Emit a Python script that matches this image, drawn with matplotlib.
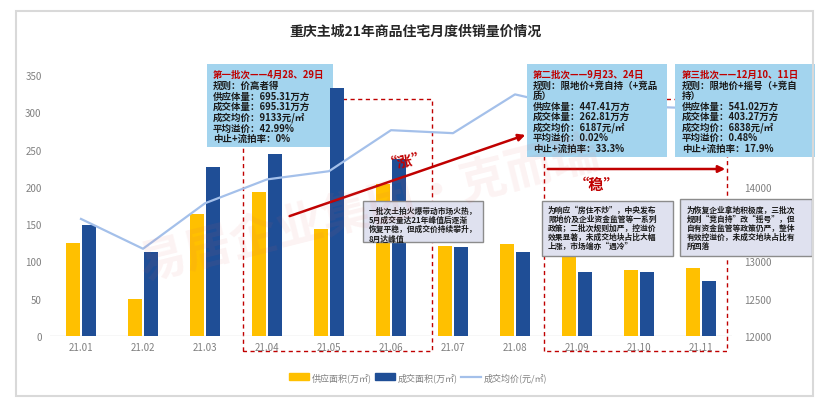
import numpy as np
import matplotlib
matplotlib.use("Agg")
import matplotlib.pyplot as plt
from matplotlib.patches import Rectangle, Patch
from matplotlib.lines import Line2D

plt.rcParams['font.family'] = ['Noto Sans CJK SC', 'DejaVu Sans']

# 数据
months = ["21.01", "21.02", "21.03", "21.04", "21.05", "21.06",
          "21.07", "21.08", "21.09", "21.10", "21.11"]
supply = [125, 49, 163, 193, 144, 204, 121, 124, 110, 89, 91]      # 供应面积(万㎡)
deal = [149, 113, 226, 244, 332, 237, 120, 112, 86, 86, 74]        # 成交面积(万㎡)
price = [13570, 13170, 13780, 14100, 14210, 14760, 14720, 15240, 15050, 15080, 15050]  # 成交均价(元/㎡)
price_ticks = [12000, 12500, 13000, 13500, 14000, 14500, 15000, 15500]
price_labels = ["12000", "12500", "13000", "", "14000", "", "", ""]  # 其余被说明框遮住

title = "重庆主城21年商品住宅月度供销量价情况"
batch1 = ["规则：价高者得", "供应体量：695.31万方", "成交体量：695.31万方",
          "成交均价：9133元/㎡", "平均溢价：42.99%", "中止+流拍率：0%"]
batch2 = ["规则：限地价+竞自持（+竞品", "质）", "供应体量：447.41万方", "成交体量：262.81万方",
          "成交均价：6187元/㎡", "平均溢价：0.02%", "中止+流拍率：33.3%"]
batch3 = ["规则：限地价+摇号（+竞自", "持）", "供应体量：541.02万方", "成交体量：403.27万方",
          "成交均价：6838元/㎡", "平均溢价：0.48%", "中止+流拍率：17.9%"]
noteA = ["一批次土拍火爆带动市场火热，", "5月成交量达21年峰值后逐渐",
         "恢复平稳，但成交价持续攀升，", "8月达峰值"]
noteB = ["为响应“房住不炒”，中央发布", "限地价及企业资金监管等一系列",
         "政策；二批次规则加严，控溢价", "效果显著，未成交地块占比大幅", "上涨，市场端亦“遇冷”"]
noteC = ["为恢复企业拿地积极度，三批次", "规则“竞自持”改“摇号”，但",
         "自有资金监管等政策仍严，整体", "有效控溢价，未成交地块占比有", "所回落"]

W, H = 832, 410
def fx(v): return v / W
def fy(v): return 1 - v / H

RED = '#C00000'
YEL = '#FFC000'
BLU = '#1F4E96'
LINE = '#A4C0EA'
GRAY = '#808080'

fig = plt.figure(figsize=(8.32, 4.10), dpi=100)
fig.add_artist(Rectangle((fx(16), fy(397)), fx(813) - fx(16), fy(12) - fy(397),
                         transform=fig.transFigure, fill=False, edgecolor='#d9d9d9', lw=1.5))
fig.text(fx(415), fy(32), title, ha='center', va='center', fontsize=10, fontweight='bold', color='#262626')

ax = fig.add_axes([fx(50), fy(337), fx(732) - fx(50), fy(76) - fy(337)])
x = np.arange(len(months))
ax.bar(x - 0.13, supply, 0.22, color=YEL, zorder=2)
ax.bar(x + 0.13, deal, 0.22, color=BLU, zorder=2)
ax.axhline(0, color='#d9d9d9', lw=1, zorder=1)
for s in ax.spines.values():
    s.set_visible(False)
ax.set_xticks(x)
ax.set_xticklabels(months)
ax.set_yticks(range(0, 351, 50))
ax.tick_params(length=0, labelsize=7, colors=GRAY)
ax.tick_params(axis='y', pad=6)
ax.tick_params(axis='x', pad=4)

ax2 = ax.twinx()
ax2.plot(x, price, color=LINE, lw=1.6, zorder=2)
for s in ax2.spines.values():
    s.set_visible(False)
ax2.set_yticks(price_ticks)
ax2.set_yticklabels(price_labels)
ax2.tick_params(length=0, labelsize=7, colors=GRAY, pad=9)


def box(a, x0, y0, x1, y1, fc, ec, z):
    a.add_patch(Rectangle((fx(x0), fy(y1)), fx(x1) - fx(x0), fy(y0) - fy(y1),
                          transform=fig.transFigure, clip_on=False, facecolor=fc,
                          edgecolor=ec, lw=1, zorder=z))


def lines(a, x0, y0, step, texts, size, z, first_red=None):
    k = 0
    if first_red:
        a.text(fx(x0), fy(y0), first_red, transform=fig.transFigure, fontsize=size,
               fontweight='bold', color=RED, va='center', ha='left', zorder=z)
        k = 1
    for i, t in enumerate(texts):
        a.text(fx(x0), fy(y0 + (i + k) * step), t, transform=fig.transFigure, fontsize=size,
               fontweight='bold', color='#1a1a1a', va='center', ha='left', zorder=z)


def dashed(a, pts, z):
    xs = [fx(p[0]) for p in pts]
    ys = [fy(p[1]) for p in pts]
    a.plot(xs, ys, transform=fig.transFigure, color=RED, ls=(0, (3, 2.5)), lw=1,
           clip_on=False, zorder=z)


# 虚线框
dashed(ax, [(243, 352), (243, 100), (432, 100), (432, 352), (243, 352)], 0.5)
dashed(ax2, [(544, 352), (544, 100), (727, 100), (727, 352), (544, 352)], 1)

# 批次信息框
box(ax, 207, 65, 333, 148, '#A3D4EE', 'none', 1)
lines(ax, 213, 75, 10.7, batch1, 6.8, 1.5, "第一批次——4月28、29日")
box(ax2, 527, 65, 667, 158, '#A3D4EE', 'none', 6)
lines(ax2, 533, 75, 10.5, batch2, 6.8, 7, "第二批次——9月23、24日")
box(ax2, 675, 65, 815, 158, '#A3D4EE', 'none', 6)
lines(ax2, 682, 75, 10.5, batch3, 6.8, 7, "第三批次——12月10、11日")

# 说明框
box(ax2, 363, 202, 483, 243, '#DFE1EF', '#8c8c8c', 6)
lines(ax2, 369, 211, 9.3, noteA, 5.6, 7)
box(ax2, 542, 202, 673, 257, '#DFE1EF', '#8c8c8c', 6)
lines(ax2, 548, 210, 9.2, noteB, 5.6, 7)
box(ax2, 680, 200, 812, 257, '#DFE1EF', '#8c8c8c', 6)
lines(ax2, 687, 210, 9.2, noteC, 5.6, 7)

# 趋势箭头
ax2.annotate('', xy=(fx(528), fy(135)), xytext=(fx(287), fy(218)), xycoords='figure fraction',
             arrowprops=dict(arrowstyle='-|>', color=RED, lw=1.8, mutation_scale=10), zorder=5)
ax2.annotate('', xy=(fx(728), fy(170)), xytext=(fx(545), fy(170)), xycoords='figure fraction',
             arrowprops=dict(arrowstyle='-|>', color=RED, lw=1.8, mutation_scale=10), zorder=5)
ax2.text(fx(405), fy(160), "“涨”", transform=fig.transFigure, fontsize=11, fontweight='bold',
         color=RED, ha='center', va='center', rotation=10, zorder=5)
ax2.text(fx(597), fy(185), "“稳”", transform=fig.transFigure, fontsize=11, fontweight='bold',
         color=RED, ha='center', va='center', zorder=5)

# 水印
fig.text(fx(370), fy(210), "易居企业集团·克而瑞", fontsize=34, fontweight='bold', color='#e06060',
         alpha=0.08, rotation=14, ha='center', va='center')

handles = [Patch(color=YEL), Patch(color=BLU), Line2D([0], [0], color=LINE, lw=1.6)]
fig.legend(handles, ["供应面积(万㎡)", "成交面积(万㎡)", "成交均价(元/㎡)"], loc='center',
           bbox_to_anchor=(fx(418), fy(378)), ncol=3, frameon=False, fontsize=6.5,
           labelcolor=GRAY, handlelength=2.2, handleheight=0.8, columnspacing=0.4,
           handletextpad=0.3)

ax.set_xlim(-0.5, 10.5)
ax.set_ylim(0, 350)
ax2.set_ylim(12000, 15500)

fig.savefig("out.png", dpi=100)
